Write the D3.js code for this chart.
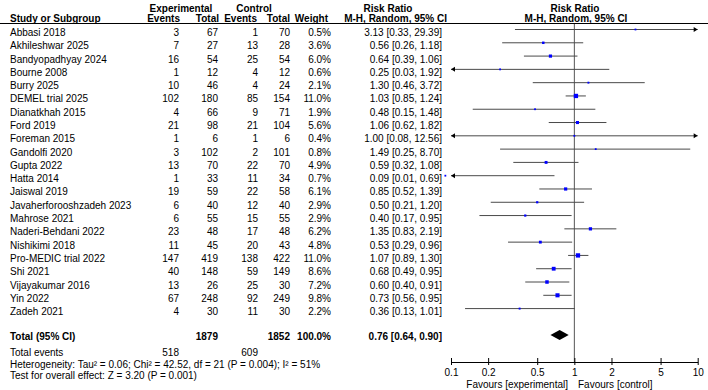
<!DOCTYPE html>
<html>
<head>
<meta charset="utf-8">
<script src="https://cdn.jsdelivr.net/npm/d3@7/dist/d3.min.js"></script>
<style>
  body { margin: 0; background: #fff; }
  svg text { font-family: "Liberation Sans", Arial, sans-serif; font-size: 10px; fill: #000; }
</style>
</head>
<body>
<svg width="708" height="390"></svg>
<script>
var studies = ["Abbasi 2018", "Akhileshwar 2025", "Bandyopadhyay 2024", "Bourne 2008", "Burry 2025",
  "DEMEL trial 2025", "Dianatkhah 2015", "Ford 2019", "Foreman 2015", "Gandolfi 2020", "Gupta 2022",
  "Hatta 2014", "Jaiswal 2019", "Javaherforooshzadeh 2023", "Mahrose 2021", "Naderi-Behdani 2022",
  "Nishikimi 2018", "Pro-MEDIC trial 2022", "Shi 2021", "Vijayakumar 2016", "Yin 2022", "Zadeh 2021"]
var expEvents = [3, 7, 16, 1, 10, 102, 4, 21, 1, 3, 13, 1, 19, 6, 6, 23, 11, 147, 40, 13, 67, 4]
var expTotal = [67, 27, 54, 12, 46, 180, 66, 98, 6, 102, 70, 33, 59, 40, 55, 48, 45, 419, 148, 26, 248, 30]
var ctrlEvents = [1, 13, 25, 4, 4, 85, 9, 21, 1, 2, 22, 11, 22, 12, 15, 17, 20, 138, 59, 25, 92, 11]
var ctrlTotal = [70, 28, 54, 12, 24, 154, 71, 104, 6, 101, 70, 34, 58, 40, 55, 48, 43, 422, 149, 30, 249, 30]
var weights = [0.5, 3.6, 6.0, 0.6, 2.1, 11.0, 1.9, 5.6, 0.4, 0.8, 4.9, 0.7, 6.1, 2.9, 2.9, 6.2, 4.8, 11.0, 8.6, 7.2, 9.8, 2.2]
var rr = [3.13, 0.56, 0.64, 0.25, 1.30, 1.03, 0.48, 1.06, 1.00, 1.49, 0.59, 0.09, 0.85, 0.50, 0.40, 1.35, 0.53, 1.07, 0.68, 0.60, 0.73, 0.36]
var lo = [0.33, 0.26, 0.39, 0.03, 0.46, 0.85, 0.15, 0.62, 0.08, 0.25, 0.32, 0.01, 0.52, 0.21, 0.17, 0.83, 0.29, 0.89, 0.49, 0.40, 0.56, 0.13]
var hi = [29.39, 1.18, 1.06, 1.92, 3.72, 1.24, 1.48, 1.82, 12.56, 8.70, 1.08, 0.69, 1.39, 1.20, 0.95, 2.19, 0.96, 1.30, 0.95, 0.91, 0.95, 1.01]
var total = {est: 0.76, lo: 0.64, hi: 0.90, expN: 1879, ctrlN: 1852, expEv: 518, ctrlEv: 609}
var tickVals = [0.1, 0.2, 0.5, 1, 2, 5, 10]

var svg = d3.select('svg')
var x = d3.scaleLog().domain([0.1, 10]).range([451, 697.7])
var rowY = function(i) { return 36 + i * 13.29 }   // text baseline
var fmt2 = d3.format('.2f')

// headers
function txt(xx, yy, s, anchor, bold, underline) {
  var t = svg.append('text').attr('x', xx).attr('y', yy).attr('text-anchor', anchor || 'start').text(s)
  if (bold) t.style('font-weight', 'bold')
  if (underline) t.style('text-decoration', 'underline')
  return t
}
txt(181, 12, 'Experimental', 'middle', true)
txt(254, 12, 'Control', 'middle', true)
txt(388, 12, 'Risk Ratio', 'middle', true)
txt(575, 12, 'Risk Ratio', 'middle', true)
txt(10, 22, 'Study or Subgroup', 'start', true, true)
txt(180, 22, 'Events', 'end', true, true)
txt(219, 22, 'Total', 'end', true, true)
txt(257, 22, 'Events', 'end', true, true)
txt(290, 22, 'Total', 'end', true, true)
txt(328, 22, 'Weight', 'end', true, true)
txt(447, 22, 'M-H, Random, 95% CI', 'end', true, true)
txt(576, 22, 'M-H, Random, 95% CI', 'middle', true, true)

svg.append('line').attr('x1', 0).attr('x2', 708).attr('y1', 23.5).attr('y2', 23.5)
  .attr('stroke', '#000').attr('stroke-width', 1)

// table rows
studies.forEach(function(s, i) {
  var y = rowY(i)
  txt(10, y, s)
  txt(179, y, expEvents[i], 'end')
  txt(218, y, expTotal[i], 'end')
  txt(258, y, ctrlEvents[i], 'end')
  txt(290, y, ctrlTotal[i], 'end')
  txt(331, y, weights[i].toFixed(1) + '%', 'end')
  txt(442, y, fmt2(rr[i]) + ' [' + fmt2(lo[i]) + ', ' + fmt2(hi[i]) + ']', 'end')
})

// null line
svg.append('line').attr('x1', x(1)).attr('x2', x(1)).attr('y1', 24).attr('y2', 362)
  .attr('stroke', '#555').attr('stroke-width', 1)

// CI lines, arrows, squares
var plot = svg.append('g')
studies.forEach(function(s, i) {
  var y = rowY(i) - 6.5
  var x1 = x(Math.max(lo[i], 0.1)), x2 = x(Math.min(hi[i], 10))
  plot.append('line').attr('x1', x1).attr('x2', x2).attr('y1', y).attr('y2', y)
    .attr('stroke', '#4a4a4a').attr('stroke-width', 1)
  if (lo[i] < 0.1) {
    plot.append('path').attr('d', 'M' + x1 + ',' + y + 'l4,-2.5l0,5z').attr('fill', '#000')
  }
  if (hi[i] > 10) {
    plot.append('path').attr('d', 'M' + x2 + ',' + y + 'l-4,-2.5l0,5z').attr('fill', '#000')
  }
  var side = Math.max(1.8, 1.3 * Math.sqrt(weights[i]))
  plot.append('rect').attr('x', x(rr[i]) - side / 2).attr('y', y - side / 2)
    .attr('width', side).attr('height', side).attr('fill', '#0000ff')
})

// total row
var ty = 340
txt(10, ty, 'Total (95% CI)', 'start', true)
txt(218, ty, total.expN, 'end', true)
txt(290, ty, total.ctrlN, 'end', true)
txt(331, ty, '100.0%', 'end', true)
txt(442, ty, fmt2(total.est) + ' [' + fmt2(total.lo) + ', ' + fmt2(total.hi) + ']', 'end', true)
var dy = 335
svg.append('path')
  .attr('d', 'M' + x(total.lo) + ',' + dy + 'L' + x(total.est) + ',' + (dy - 5) +
    'L' + x(total.hi) + ',' + dy + 'L' + x(total.est) + ',' + (dy + 5) + 'Z')
  .attr('fill', '#000')

txt(10, 356, 'Total events')
txt(179, 356, total.expEv, 'end')
txt(258, 356, total.ctrlEv, 'end')
txt(10, 368, 'Heterogeneity: Tau\u00b2 = 0.06; Chi\u00b2 = 42.52, df = 21 (P = 0.004); I\u00b2 = 51%')
txt(10, 379, 'Test for overall effect: Z = 3.20 (P = 0.001)')

// axis
var axis = d3.axisBottom(x).tickValues(tickVals).tickFormat(function(d) { return String(d) })
  .tickSizeInner(3).tickSizeOuter(0).tickPadding(4)
var ag = svg.append('g').attr('transform', 'translate(0,362)').call(axis)
ag.select('.domain').attr('stroke', '#000')
ag.selectAll('.tick line').attr('y1', -4).attr('stroke', '#000')
ag.selectAll('.tick text').style('font-size', '10px').style('font-family', '"Liberation Sans", Arial, sans-serif')

txt(568, 388, 'Favours [experimental]', 'end')
txt(578, 388, 'Favours [control]', 'start')
</script>
</body>
</html>
